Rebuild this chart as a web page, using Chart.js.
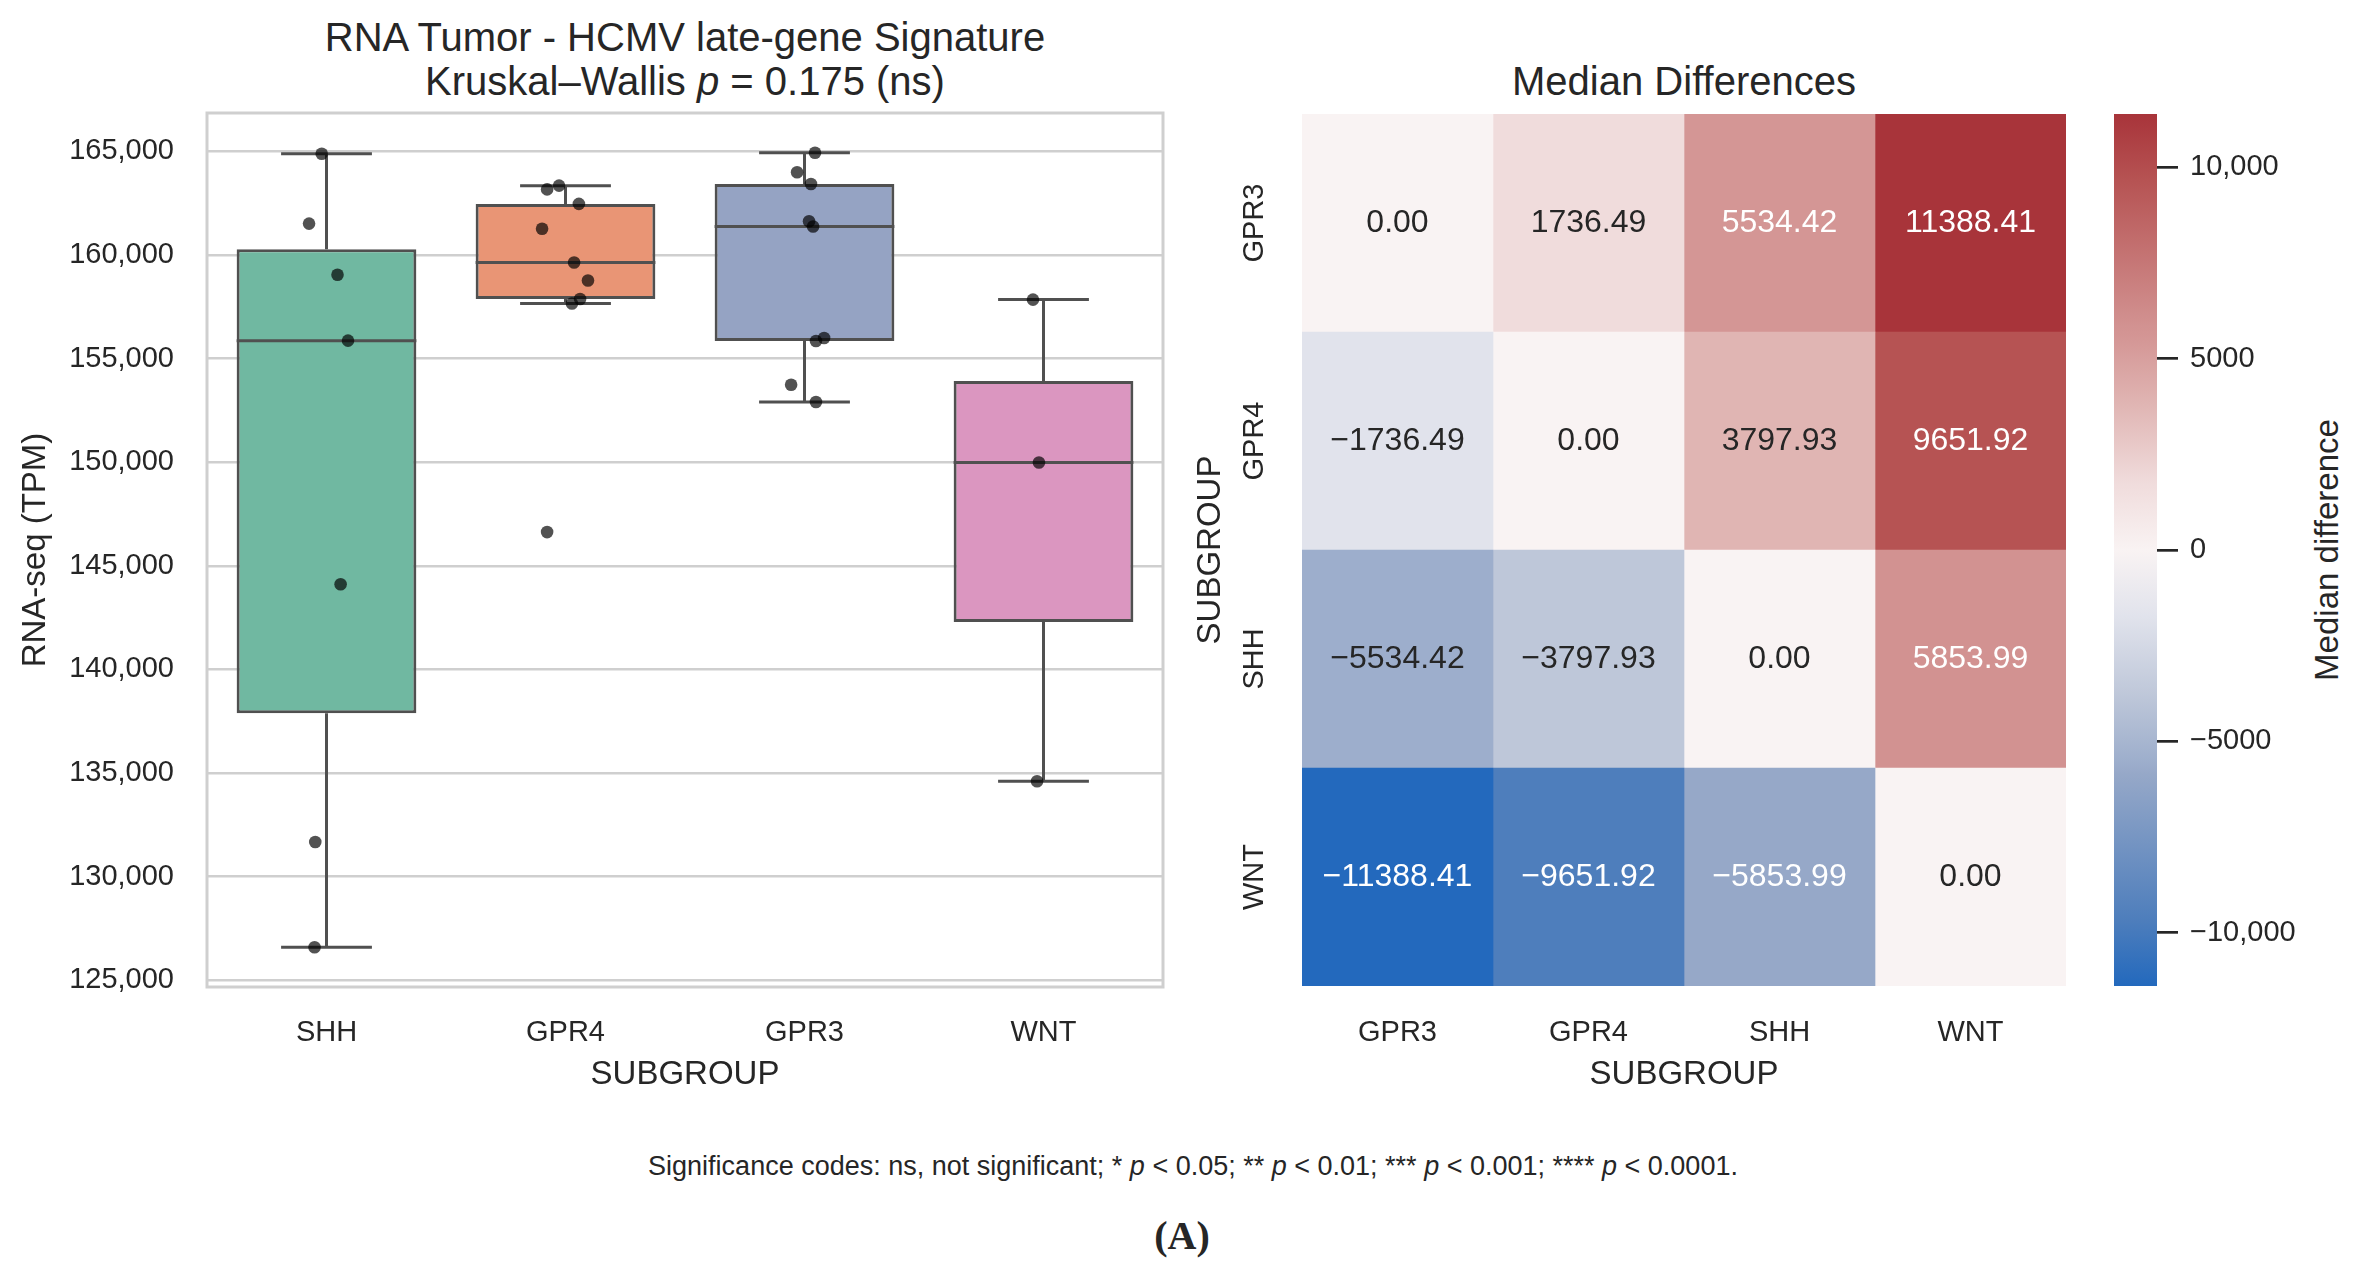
<!DOCTYPE html>
<html>
<head>
<meta charset="utf-8">
<script src="https://cdn.jsdelivr.net/npm/chart.js@4.4.1/dist/chart.umd.min.js"></script>
<style>
  html, body { margin: 0; padding: 0; background: #fff; }
  body { width: 2357px; height: 1272px; position: relative; overflow: hidden;
         font-family: "Liberation Sans", Arial, sans-serif; color: #262626; }
  canvas { position: absolute; top: 0; }
  .txt { position: absolute; white-space: nowrap; text-align: center; }
</style>
</head>
<body>
<div class="txt" style="left:285px; top:15px; width:800px; font-size:40px; line-height:44px;">RNA Tumor - HCMV late-gene Signature<br>Kruskal–Wallis <i>p</i> = 0.175 (ns)</div>
<div class="txt" style="left:1284px; top:59px; width:800px; font-size:40px; line-height:44px;">Median Differences</div>
<div class="txt" style="left:2127px; top:530px; width:400px; font-size:33px; line-height:40px; transform:rotate(-90deg);">Median difference</div>
<div class="txt" style="left:393px; top:1150px; width:1600px; font-size:27px; line-height:32px;">Significance codes: ns, not significant; * <i>p</i> &lt; 0.05; ** <i>p</i> &lt; 0.01; *** <i>p</i> &lt; 0.001; **** <i>p</i> &lt; 0.0001.</div>
<div class="txt" style="left:1082px; top:1213px; width:200px; font-size:40px; line-height:46px; font-family:'Liberation Serif', 'Times New Roman', serif; font-weight:bold;">(A)</div>

<canvas id="boxChart" width="1200" height="1100" style="left:0px"></canvas>
<canvas id="heatChart" width="950" height="1100" style="left:1150px"></canvas>
<canvas id="cbarChart" width="257" height="1100" style="left:2100px"></canvas>

<script>
// ---- data ----
const groups = ['SHH', 'GPR4', 'GPR3', 'WNT'];
const shhValues  = [164890, 161520, 159050, 155870, 144110, 131670, 126590];
const gpr4Values = [163350, 163170, 162470, 161270, 159640, 158770, 157880, 157660, 146630];
const gpr3Values = [164940, 164000, 163430, 161630, 161380, 156000, 155850, 153740, 152910];
const wntValues  = [157850, 149990, 134600];

const yTicks = [125000, 130000, 135000, 140000, 145000, 150000, 155000, 160000, 165000];
const yTickLabels = ['125,000', '130,000', '135,000', '140,000', '145,000', '150,000', '155,000', '160,000', '165,000'];

// strip plot jitter (category units), as seen in the figure
const shhJitter  = [-0.02, -0.073, 0.046, 0.09, 0.059, -0.047, -0.05];
const gpr4Jitter = [-0.027, -0.077, 0.056, -0.098, 0.036, 0.094, 0.061, 0.027, -0.077];
const gpr3Jitter = [0.044, -0.031, 0.027, 0.019, 0.036, 0.082, 0.048, -0.056, 0.048];
const wntJitter  = [-0.044, -0.019, -0.027];

const heatCols = ['GPR3', 'GPR4', 'SHH', 'WNT'];
const heatRows = ['GPR3', 'GPR4', 'SHH', 'WNT'];
const rowGPR3 = [0.00, 1736.49, 5534.42, 11388.41];
const rowGPR4 = [-1736.49, 0.00, 3797.93, 9651.92];
const rowSHH  = [-5534.42, -3797.93, 0.00, 5853.99];
const rowWNT  = [-11388.41, -9651.92, -5853.99, 0.00];

const cbarTicks = [-10000, -5000, 0, 5000, 10000];
const cbarTickLabels = ['\u221210,000', '\u22125000', '0', '5000', '10,000'];

// ---- styles ----
Chart.defaults.font.family = '"Liberation Sans", Arial, sans-serif';
Chart.defaults.color = '#262626';
const INK = '#262626';
const LINE = '#505050';
const GRID = '#cfcfcf';
const boxFill = ['#70b8a1', '#e99575', '#95a3c3', '#db96c0'];

// vlag-like diverging map, stops in fraction of [-vmax, vmax]
const cmapStops = [
  { t: 0.000, c: [35, 105, 189] },
  { t: 0.076, c: [78, 126, 188] },
  { t: 0.243, c: [150, 168, 200] },
  { t: 0.257, c: [157, 174, 204] },
  { t: 0.333, c: [190, 199, 217] },
  { t: 0.424, c: [225, 227, 236] },
  { t: 0.500, c: [249, 243, 243] },
  { t: 0.576, c: [240, 220, 220] },
  { t: 0.667, c: [224, 181, 179] },
  { t: 0.743, c: [212, 150, 149] },
  { t: 0.757, c: [210, 146, 145] },
  { t: 0.924, c: [182, 83, 83] },
  { t: 1.000, c: [168, 52, 58] }
];

// ---- box plot ----
const groupValues = [shhValues, gpr4Values, gpr3Values, wntValues];
const groupJitter = [shhJitter, gpr4Jitter, gpr3Jitter, wntJitter];

function quantile(arr, q) {
  const s = [...arr].sort((a, b) => a - b);
  const pos = (s.length - 1) * q;
  const lo = Math.floor(pos), hi = Math.ceil(pos);
  return s[lo] + (s[hi] - s[lo]) * (pos - lo);
}

function boxStats(arr) {
  const q1 = quantile(arr, 0.25), med = quantile(arr, 0.5), q3 = quantile(arr, 0.75);
  const iqr = q3 - q1;
  const inside = arr.filter(v => v >= q1 - 1.5 * iqr && v <= q3 + 1.5 * iqr);
  return { q1, med, q3, lo: Math.min(...inside), hi: Math.max(...inside) };
}

const stats = groupValues.map(boxStats);
const BOX_HALF = 0.376, CAP_HALF = 0.19;

const lineData = [];
stats.forEach((s, i) => {
  lineData.push({ x: i, y: s.q3 }, { x: i, y: s.hi }, { x: i, y: null });
  lineData.push({ x: i - CAP_HALF, y: s.hi }, { x: i + CAP_HALF, y: s.hi }, { x: i, y: null });
  lineData.push({ x: i, y: s.q1 }, { x: i, y: s.lo }, { x: i, y: null });
  lineData.push({ x: i - CAP_HALF, y: s.lo }, { x: i + CAP_HALF, y: s.lo }, { x: i, y: null });
  lineData.push({ x: i - BOX_HALF, y: s.med }, { x: i + BOX_HALF, y: s.med }, { x: i, y: null });
});

const pointData = [];
groupValues.forEach((vals, i) => {
  vals.forEach((v, k) => pointData.push({ x: i + groupJitter[i][k], y: v }));
});

const allValues = groupValues.flat();
const dataMin = Math.min(...allValues), dataMax = Math.max(...allValues);
const margin = 0.05 * (dataMax - dataMin);

const frame = {
  id: 'frame',
  beforeDatasetsDraw(chart) {
    const { ctx, chartArea: a } = chart;
    ctx.save();
    ctx.strokeStyle = GRID;
    ctx.lineWidth = 3;
    ctx.strokeRect(a.left, a.top, a.width, a.height);
    ctx.restore();
  }
};

new Chart(document.getElementById('boxChart'), {
  type: 'bar',
  data: {
    datasets: [
      {
        type: 'scatter',
        data: pointData,
        pointRadius: 6.3,
        pointBackgroundColor: 'rgba(0,0,0,0.68)',
        pointBorderWidth: 0,
        order: 0
      },
      {
        type: 'scatter',
        data: lineData,
        showLine: true,
        spanGaps: false,
        pointRadius: 0,
        borderColor: LINE,
        borderWidth: 3,
        borderCapStyle: 'butt',
        order: 1
      },
      {
        type: 'bar',
        data: stats.map((s, i) => ({ x: i, y: [s.q1, s.q3] })),
        backgroundColor: boxFill,
        borderColor: LINE,
        borderWidth: 3,
        borderSkipped: false,
        categoryPercentage: 1,
        barPercentage: 0.752,
        order: 2
      }
    ]
  },
  plugins: [frame],
  options: {
    responsive: false,
    animation: false,
    layout: { padding: { top: 113, right: 37, left: 0, bottom: 0 } },
    plugins: { legend: { display: false }, tooltip: { enabled: false } },
    scales: {
      x: {
        type: 'linear',
        min: -0.5,
        max: 3.5,
        offset: false,
        afterBuildTicks: s => { s.ticks = groups.map((g, i) => ({ value: i })); },
        afterFit: s => { s.height = 113; },
        ticks: { padding: 29, maxRotation: 0, font: { size: 29 }, color: INK,
                 callback: (v, i) => groups[i] },
        grid: { display: false, drawTicks: false },
        border: { display: false },
        title: { display: true, text: 'SUBGROUP', color: INK, font: { size: 33 },
                 padding: { top: 0, bottom: 5 } }
      },
      y: {
        type: 'linear',
        min: dataMin - margin,
        max: dataMax + margin,
        afterBuildTicks: s => { s.ticks = yTicks.map(v => ({ value: v })); },
        afterFit: s => { s.width = 207; },
        ticks: { padding: 33, font: { size: 29 }, color: INK,
                 callback: (v, i) => yTickLabels[i] },
        grid: { color: GRID, lineWidth: 2.4, drawTicks: false },
        border: { display: false },
        title: { display: true, text: 'RNA-seq (TPM)', color: INK, font: { size: 33 },
                 padding: { top: 16, bottom: 0 } }
      }
    }
  }
});

// ---- heatmap ----
const matrix = [rowGPR3, rowGPR4, rowSHH, rowWNT];
const vmax = Math.max(...matrix.flat().map(Math.abs));

function cmapRGB(v) {
  const t = Math.min(1, Math.max(0, (v + vmax) / (2 * vmax)));
  for (let i = 1; i < cmapStops.length; i++) {
    const a = cmapStops[i - 1], b = cmapStops[i];
    if (t <= b.t) {
      const f = (t - a.t) / (b.t - a.t);
      return a.c.map((ca, k) => Math.round(ca + (b.c[k] - ca) * f));
    }
  }
  return cmapStops[cmapStops.length - 1].c;
}
const rgbStr = c => `rgb(${c[0]},${c[1]},${c[2]})`;

function luminance(c) {
  const lin = c.map(x => {
    x /= 255;
    return x <= 0.03928 ? x / 12.92 : Math.pow((x + 0.055) / 1.055, 2.4);
  });
  return 0.2126 * lin[0] + 0.7152 * lin[1] + 0.0722 * lin[2];
}

const fmtCell = v => (v < 0 ? '\u2212' : '') + Math.abs(v).toFixed(2);

const cellText = {
  id: 'cellText',
  afterDatasetsDraw(chart) {
    const { ctx, chartArea } = chart;
    ctx.save();
    ctx.textAlign = 'center';
    ctx.textBaseline = 'middle';
    ctx.font = '32px "Liberation Sans", Arial, sans-serif';
    chart.data.datasets.forEach((ds, ci) => {
      chart.getDatasetMeta(ci).data.forEach((bar, ri) => {
        const v = matrix[ri][ci];
        const p = bar.getCenterPoint();
        ctx.fillStyle = luminance(cmapRGB(v)) > 0.408 ? INK : '#ffffff';
        ctx.fillText(fmtCell(v), p.x, p.y);
      });
    });
    // rotated row labels
    const ys = chart.scales.y;
    ctx.font = '29px "Liberation Sans", Arial, sans-serif';
    ctx.fillStyle = INK;
    heatRows.forEach((r, ri) => {
      ctx.save();
      ctx.translate(chartArea.left - 47, ys.getPixelForValue(ri));
      ctx.rotate(-Math.PI / 2);
      ctx.fillText(r, 0, 0);
      ctx.restore();
    });
    ctx.restore();
  }
};

new Chart(document.getElementById('heatChart'), {
  type: 'bar',
  data: {
    labels: heatRows,
    datasets: heatCols.map((c, ci) => ({
      label: c,
      data: heatRows.map(() => [ci, ci + 1]),
      backgroundColor: matrix.map(row => rgbStr(cmapRGB(row[ci]))),
      borderWidth: 0,
      barPercentage: 1,
      categoryPercentage: 1,
      grouped: false
    }))
  },
  plugins: [cellText],
  options: {
    indexAxis: 'y',
    responsive: false,
    animation: false,
    layout: { padding: { top: 114, right: 34, left: 0, bottom: 0 } },
    plugins: { legend: { display: false }, tooltip: { enabled: false } },
    scales: {
      x: {
        type: 'linear',
        min: 0,
        max: heatCols.length,
        afterBuildTicks: s => { s.ticks = heatCols.map((c, i) => ({ value: i + 0.5 })); },
        afterFit: s => { s.height = 114; },
        ticks: { padding: 30, maxRotation: 0, font: { size: 29 }, color: INK,
                 callback: (v, i) => heatCols[i] },
        grid: { display: false, drawTicks: false },
        border: { display: false },
        title: { display: true, text: 'SUBGROUP', color: INK, font: { size: 33 },
                 padding: { top: 0, bottom: 5 } }
      },
      y: {
        type: 'category',
        offset: true,
        afterFit: s => { s.width = 152; },
        ticks: { display: false },
        grid: { display: false, drawTicks: false },
        border: { display: false },
        title: { display: true, text: 'SUBGROUP', color: INK, font: { size: 33 },
                 padding: { top: 41, bottom: 0 } }
      }
    }
  }
});

// ---- colour bar ----
new Chart(document.getElementById('cbarChart'), {
  type: 'bar',
  data: {
    labels: ['Median difference'],
    datasets: [{
      data: [[-vmax, vmax]],
      backgroundColor: c => {
        const a = c.chart.chartArea;
        if (!a) return '#ffffff';
        const g = c.chart.ctx.createLinearGradient(0, a.bottom, 0, a.top);
        cmapStops.forEach(s => g.addColorStop(s.t, rgbStr(s.c)));
        return g;
      },
      borderWidth: 0,
      barPercentage: 1,
      categoryPercentage: 1
    }]
  },
  options: {
    responsive: false,
    animation: false,
    layout: { padding: { top: 114, bottom: 114, left: 14, right: 0 } },
    plugins: { legend: { display: false }, tooltip: { enabled: false } },
    scales: {
      x: { display: false },
      y: {
        position: 'right',
        min: -vmax,
        max: vmax,
        afterBuildTicks: s => { s.ticks = cbarTicks.map(v => ({ value: v })); },
        afterFit: s => { s.width = 200; },
        ticks: { padding: 12, font: { size: 29 }, color: INK,
                 callback: (v, i) => cbarTickLabels[i] },
        grid: { drawOnChartArea: false, drawTicks: true, tickLength: 21,
                lineWidth: 2.7, color: INK },
        border: { display: false }
      }
    }
  }
});
</script>
</body>
</html>
